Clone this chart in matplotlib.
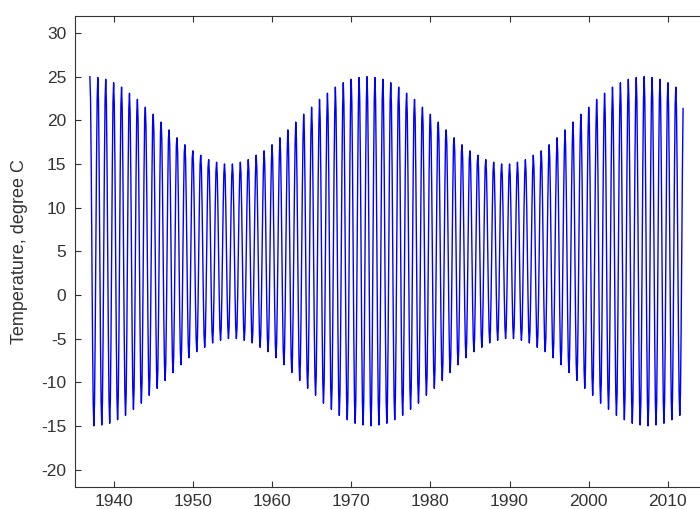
import numpy as np
import matplotlib.pyplot as plt

plt.rcParams['font.family'] = ['Liberation Sans', 'DejaVu Sans']
plt.rcParams['axes.unicode_minus'] = False

# years covered by the monthly record
years = list(range(1937, 2012))

# yearly warm peak (degree C)
year_high = [25.0, 24.9, 24.7, 24.3, 23.8, 23.1, 22.4, 21.5, 20.7, 19.8,
             18.9, 18.0, 17.2, 16.5, 16.0, 15.5, 15.2, 15.0, 15.0, 15.2,
             15.5, 16.0, 16.5, 17.2, 18.0, 18.9, 19.8, 20.7, 21.5, 22.4,
             23.1, 23.8, 24.3, 24.7, 24.9, 25.0, 24.9, 24.7, 24.3, 23.8,
             23.1, 22.4, 21.5, 20.7, 19.8, 18.9, 18.0, 17.2, 16.5, 16.0,
             15.5, 15.2, 15.0, 15.0, 15.2, 15.5, 16.0, 16.5, 17.2, 18.0,
             18.9, 19.8, 20.7, 21.5, 22.4, 23.1, 23.8, 24.3, 24.7, 24.9,
             25.0, 24.9, 24.7, 24.3, 23.8]

# yearly cold trough (degree C)
year_low = [-15.0, -14.9, -14.7, -14.3, -13.8, -13.1, -12.4, -11.5, -10.7, -9.8,
            -8.9, -8.0, -7.2, -6.5, -6.0, -5.5, -5.2, -5.0, -5.0, -5.2,
            -5.5, -6.0, -6.5, -7.2, -8.0, -8.9, -9.8, -10.7, -11.5, -12.4,
            -13.1, -13.8, -14.3, -14.7, -14.9, -15.0, -14.9, -14.7, -14.3, -13.8,
            -13.1, -12.4, -11.5, -10.7, -9.8, -8.9, -8.0, -7.2, -6.5, -6.0,
            -5.5, -5.2, -5.0, -5.0, -5.2, -5.5, -6.0, -6.5, -7.2, -8.0,
            -8.9, -9.8, -10.7, -11.5, -12.4, -13.1, -13.8, -14.3, -14.7, -14.9,
            -15.0, -14.9, -14.7, -14.3, -13.8]

# position of each month between trough (-1) and peak (+1)
month_shape = [1.0, 0.87, 0.5, 0.0, -0.5, -0.87, -1.0, -0.87, -0.5, 0.0, 0.5, 0.87]

t = []
temp = []
for y, hi, lo in zip(years, year_high, year_low):
    mid = (hi + lo) / 2
    half = (hi - lo) / 2
    for m, s in enumerate(month_shape):
        t.append(y + m / 12)
        temp.append(mid + half * s)

fig = plt.figure(figsize=(7, 5.09), dpi=100)
ax = fig.add_axes([0.1067, 0.0432, 0.904, 0.9263])

ax.plot(t, temp, color='#0000ff', linewidth=1.0)

ax.set_xlim(1935.08, 2015)
ax.set_ylim(-22, 32)
ax.set_xticks(np.arange(1940, 2011, 10))
ax.set_yticks(np.arange(-20, 31, 5))
ax.tick_params(direction='in', length=4, width=0.8, top=True, right=True,
               labelsize=12.5, colors='#333333', pad=5)
ax.tick_params(axis='y', pad=6)
for sp in ax.spines.values():
    sp.set_color('#333333')
    sp.set_linewidth(0.8)

ax.set_ylabel('Temperature, degree C', fontsize=13, color='#333333')
ax.yaxis.set_label_coords(-0.074, 0.5)

fig.savefig('out.png', dpi=100)
